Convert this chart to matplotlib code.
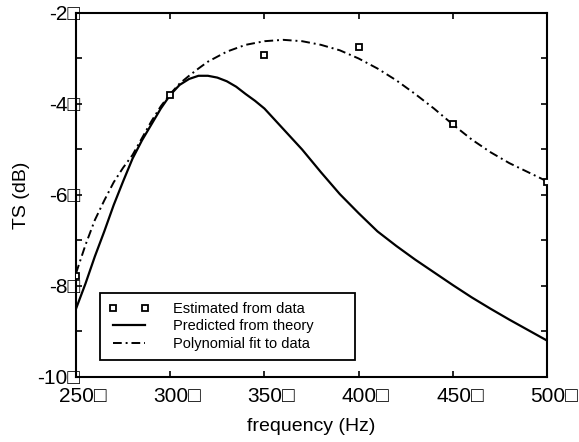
import numpy as np
import matplotlib
matplotlib.use('Agg')
import matplotlib.pyplot as plt
from matplotlib.transforms import ScaledTranslation

plt.rcParams['font.family'] = ['Liberation Sans', 'DejaVu Sans']

# Datos medidos
freq_data = [250, 300, 350, 400, 450, 500]
ts_data = [-7.78, -3.80, -2.93, -2.74, -4.45, -5.71]

# Curva teórica
freq_theory = [250, 255, 260, 265, 270, 275, 280, 285, 290, 295, 300, 305, 310,
               315, 320, 325, 330, 335, 340, 345, 350, 360, 370, 380, 390, 400,
               410, 420, 430, 440, 450, 460, 470, 480, 490, 500]
ts_theory = [-8.50, -7.95, -7.35, -6.80, -6.22, -5.70, -5.20, -4.80, -4.45, -4.10,
             -3.80, -3.58, -3.45, -3.38, -3.38, -3.42, -3.50, -3.62, -3.78, -3.93,
             -4.10, -4.55, -5.00, -5.50, -5.98, -6.40, -6.80, -7.12, -7.42, -7.70,
             -7.98, -8.25, -8.50, -8.74, -8.97, -9.20]

# Ajuste polinómico
freq_fit = [250, 255, 260, 265, 270, 275, 280, 285, 290, 295, 300, 305, 310, 315,
            320, 330, 340, 350, 360, 370, 380, 390, 400, 410, 420, 430, 440, 450,
            460, 470, 480, 490, 500]
ts_fit = [-7.72, -7.10, -6.55, -6.12, -5.72, -5.40, -5.12, -4.75, -4.38, -4.05,
          -3.78, -3.55, -3.38, -3.22, -3.07, -2.85, -2.70, -2.62, -2.59, -2.62,
          -2.70, -2.82, -3.00, -3.22, -3.48, -3.78, -4.10, -4.45, -4.78, -5.06,
          -5.30, -5.50, -5.70]

x_ticks = [250, 300, 350, 400, 450, 500]
y_ticks = [-10, -8, -6, -4, -2]
box = '\u25a1'

fig = plt.figure(figsize=(5.79, 4.42), dpi=100)
ax = fig.add_axes([0.1313, 0.1471, 0.8135, 0.8235])

ax.plot(freq_data, ts_data, 's', color='black', mfc='white', ms=5, mew=1.3,
        label='Estimated from data', zorder=3)
ax.plot(freq_theory, ts_theory, '-', color='black', lw=1.6,
        label='Predicted from theory')
ax.plot(freq_fit, ts_fit, color='black', lw=1.4, linestyle=(0, (4.5, 2, 1, 2)),
        label='Polynomial fit to data')

ax.set_xlim(250, 500)
ax.set_ylim(-10, -2)
ax.set_xticks(x_ticks)
ax.set_xticklabels([f'{v}{box}' for v in x_ticks])
ax.set_yticks(y_ticks)
ax.set_yticklabels([f'{v}{box}' for v in y_ticks])
ax.set_yticks(np.arange(-9, -2, 2), minor=True)

ax.tick_params(axis='both', which='both', direction='in', length=4, width=1.2,
               top=True, right=True, labelsize=15)
ax.tick_params(axis='y', which='major', pad=-3)
ax.tick_params(axis='x', which='major', pad=7)
for spine in ax.spines.values():
    spine.set_linewidth(1.5)

offset = ScaledTranslation(7 / 100, 0, fig.dpi_scale_trans)
for lbl in ax.get_xticklabels():
    lbl.set_transform(lbl.get_transform() + offset)

ax.set_xlabel('frequency (Hz)', fontsize=14, labelpad=9)
ax.set_ylabel('TS (dB)', fontsize=14, labelpad=5)

leg = ax.legend(loc='lower left', bbox_to_anchor=(0.051, 0.047, 0.541, 0.192),
                mode='expand', numpoints=2, fontsize=10.5, frameon=True,
                fancybox=False, edgecolor='black', framealpha=1,
                handlelength=2.8, handletextpad=1.6, labelspacing=0.25,
                borderpad=0.6, borderaxespad=0)
leg.get_frame().set_linewidth(1.3)

fig.savefig('out.png', dpi=100)
